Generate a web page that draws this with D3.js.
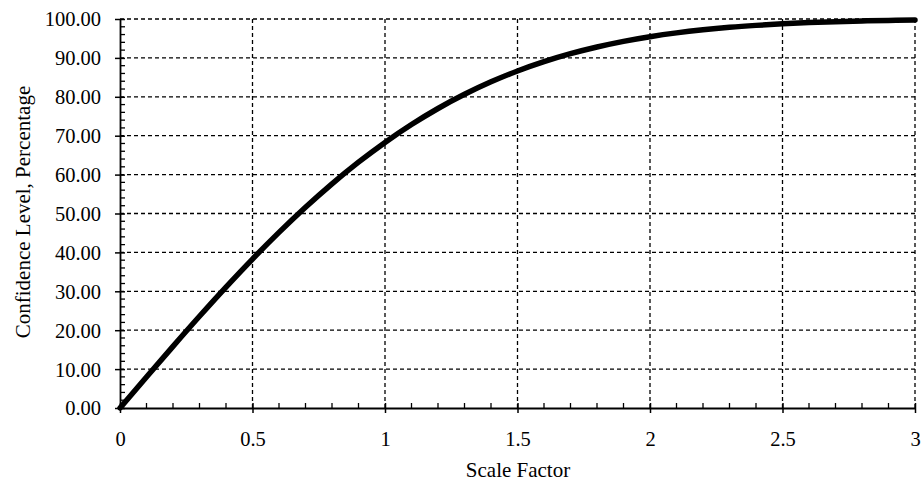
<!DOCTYPE html>
<html>
<head>
<meta charset="utf-8" />
<script src="https://cdn.jsdelivr.net/npm/d3@7"></script>
<style>
	body { margin: 0; background: #fff; }
</style>
</head>
<body>
<script>
	// scale factor (k) vs confidence level, percent
	var scaleFactor = [0, 0.1, 0.2, 0.3, 0.4, 0.5, 0.6, 0.7, 0.8, 0.9, 1.0,
		1.1, 1.2, 1.3, 1.4, 1.5, 1.6, 1.7, 1.8, 1.9, 2.0,
		2.1, 2.2, 2.3, 2.4, 2.5, 2.6, 2.7, 2.8, 2.9, 3.0];
	var confidence = [0, 7.97, 15.85, 23.58, 31.08, 38.29, 45.15, 51.61, 57.63, 63.19, 68.27,
		72.87, 76.99, 80.64, 83.85, 86.64, 89.04, 91.09, 92.81, 94.26, 95.45,
		96.43, 97.22, 97.86, 98.36, 98.76, 99.07, 99.31, 99.49, 99.63, 99.73];
	var xTicks = [0, 0.5, 1, 1.5, 2, 2.5, 3];
	var yTicks = [0, 10, 20, 30, 40, 50, 60, 70, 80, 90, 100];

	var width = 923, height = 489;
	var mLeft = 120, mRight = 915, mTop = 19, mBottom = 408;
	var tickFont = 20.5, titleFont = 21;
	var serif = "'Liberation Serif', 'DejaVu Serif', serif";

	var svg = d3.select("body").append("svg")
		.attr("width", width)
		.attr("height", height)
		.style("font-family", serif);

	var x = d3.scaleLinear().domain([0, 3]).range([mLeft, mRight]);
	var y = d3.scaleLinear().domain([0, 100]).range([mBottom, mTop]);

	// dashed grid
	var grid = svg.append("g")
		.attr("stroke", "#000")
		.attr("stroke-width", 1.3)
		.attr("stroke-dasharray", "4,3");
	grid.selectAll("line.h").data(yTicks.filter(function(d) { return d > 0; }))
		.enter().append("line")
		.attr("x1", mLeft).attr("x2", mRight)
		.attr("y1", function(d) { return y(d); })
		.attr("y2", function(d) { return y(d); });
	grid.selectAll("line.v").data(xTicks.filter(function(d) { return d > 0; }))
		.enter().append("line")
		.attr("y1", mTop).attr("y2", mBottom)
		.attr("x1", function(d) { return x(d); })
		.attr("x2", function(d) { return x(d); });

	// y axis: major ticks crossing, minor ticks inside
	var yAxis = d3.axisLeft(y).tickValues(yTicks)
		.tickFormat(d3.format(".2f"))
		.tickSizeInner(5).tickSizeOuter(0);
	var gy = svg.append("g").attr("transform", "translate(" + mLeft + ",0)").call(yAxis)
		.attr("font-size", tickFont).attr("font-family", null);
	gy.selectAll(".tick line").attr("x2", 5).attr("x1", -5).attr("stroke-width", 1.5);
	gy.selectAll(".tick text").attr("x", -19).attr("dy", "0.34em")
		.style("font-family", serif);
	gy.select(".domain").attr("stroke-width", 1.8);
	var yMinor = d3.range(0, 101, 2).filter(function(d) { return d % 10 !== 0; });
	gy.selectAll("line.minor").data(yMinor).enter().append("line")
		.attr("x1", 0).attr("x2", 5)
		.attr("y1", function(d) { return y(d); })
		.attr("y2", function(d) { return y(d); })
		.attr("stroke", "#000").attr("stroke-width", 1.3);

	// x axis
	var xAxis = d3.axisBottom(x).tickValues(xTicks)
		.tickFormat(d3.format("")).tickSizeInner(5).tickSizeOuter(0);
	var gx = svg.append("g").attr("transform", "translate(0," + mBottom + ")").call(xAxis)
		.attr("font-size", tickFont).attr("font-family", null);
	gx.selectAll(".tick line").attr("y1", -5).attr("y2", 5).attr("stroke-width", 1.5);
	gx.selectAll(".tick text").attr("y", 38).attr("dy", null)
		.style("font-family", serif);
	gx.select(".domain").attr("stroke-width", 1.8);
	var xMinor = d3.range(1, 30).filter(function(d) { return d % 5 !== 0; }).map(function(d) { return d / 10; });
	gx.selectAll("line.minor").data(xMinor).enter().append("line")
		.attr("y1", 0).attr("y2", -5)
		.attr("x1", function(d) { return x(d); })
		.attr("x2", function(d) { return x(d); })
		.attr("stroke", "#000").attr("stroke-width", 1.3);

	// curve
	var line = d3.line()
		.x(function(d, i) { return x(scaleFactor[i]); })
		.y(function(d) { return y(d); })
		.curve(d3.curveMonotoneX);
	svg.append("path")
		.datum(confidence)
		.attr("d", line)
		.attr("fill", "none")
		.attr("stroke", "#000")
		.attr("stroke-width", 5.5)
		.attr("stroke-linecap", "round");

	// titles
	svg.append("text")
		.attr("font-size", titleFont)
		.style("font-family", serif)
		.attr("x", 518).attr("y", 477)
		.attr("text-anchor", "middle")
		.text("Scale Factor");
	svg.append("text")
		.attr("font-size", titleFont)
		.style("font-family", serif)
		.attr("transform", "translate(30,212) rotate(-90)")
		.attr("text-anchor", "middle")
		.text("Confidence Level, Percentage");
</script>
</body>
</html>
